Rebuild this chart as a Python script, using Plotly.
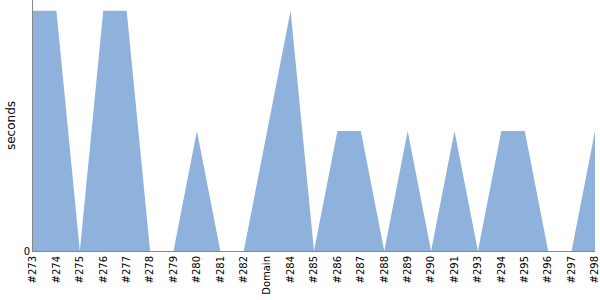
import plotly.graph_objects as go

categories = ["#273", "#274", "#275", "#276", "#277", "#278", "#279", "#280", "#281", "#282",
              "Domain", "#284", "#285", "#286", "#287", "#288", "#289", "#290", "#291", "#293",
              "#294", "#295", "#296", "#297", "#298"]
seconds = [2, 2, 0, 2, 2, 0, 0, 1, 0, 0,
           1, 2, 0, 1, 1, 0, 1, 0, 1, 0,
           1, 1, 0, 0, 1]

fig = go.Figure(go.Scatter(
    x=categories, y=seconds, mode="lines", fill="tozeroy",
    line=dict(color="#8fb2dc", width=0), fillcolor="#8fb2dc",
))
fig.update_layout(
    width=600, height=300,
    margin=dict(l=33, r=5, t=0, b=49),
    plot_bgcolor="white", paper_bgcolor="white",
    showlegend=False,
    font=dict(family="DejaVu Sans", size=10, color="black"),
)
fig.update_xaxes(
    type="category", range=[0, len(categories) - 1],
    tickangle=-90, showgrid=False, zeroline=False,
    showline=True, linecolor="#888888", linewidth=1,
    ticks="", tickfont=dict(size=10),
)
fig.update_yaxes(
    range=[0, 2.09], tickvals=[0], ticktext=["0"],
    showgrid=False, zeroline=False,
    showline=True, linecolor="#888888", linewidth=1,
    ticks="", title=dict(text="seconds", font=dict(size=12), standoff=5),
)
fig.write_html("out.html")
